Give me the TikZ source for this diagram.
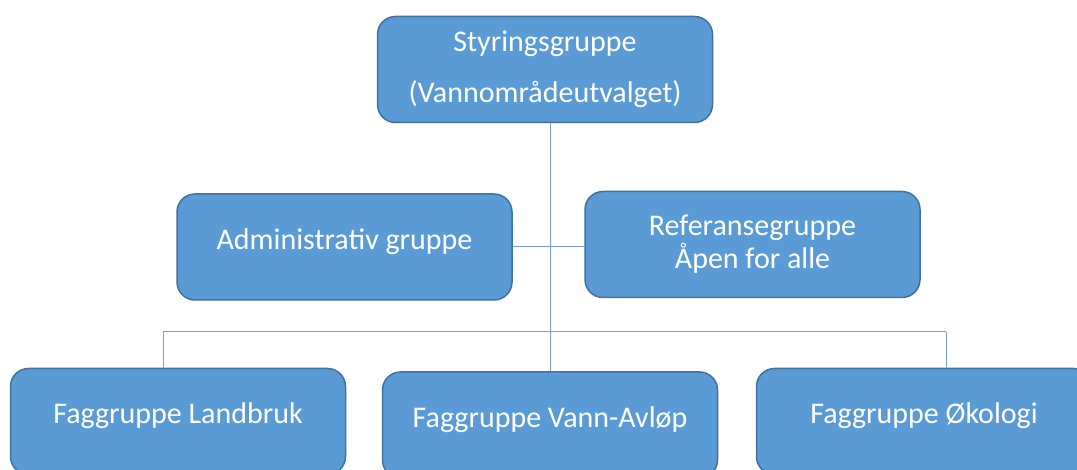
\documentclass[tikz,border=0pt]{standalone}
\usepackage{fontspec}
\setmainfont{Carlito}
\usepackage{tikz}
\usepackage{xcolor}
\definecolor{boxfill}{RGB}{91,155,213}
\definecolor{boxline}{RGB}{65,113,156}
\definecolor{linkline}{RGB}{120,160,215}

\begin{document}
\begin{tikzpicture}[x=1pt,y=-1pt,
  gruppe/.style={rectangle,rounded corners=18pt,draw=boxline,line width=1.5pt,fill=boxfill,
    text=white,align=center,inner sep=0pt,font=\fontsize{30}{33}\selectfont,
    minimum width=335pt,minimum height=106pt},
  enlinje/.style={text depth=16pt},
  link/.style={draw=linkline,line width=1pt}]
\useasboundingbox (0,0) rectangle (1077,470);
\node[gruppe] (styr) at (545,69.5) {Styringsgruppe\\[18pt](Vannområdeutvalget)};
\node[gruppe,enlinje] (admin) at (344.5,247) {Administrativ gruppe};
\node[gruppe] (ref) at (752.5,244.5) {Referansegruppe\\Åpen for alle};
\node[gruppe,enlinje] (land) at (178,421.5) {Faggruppe Landbruk};
\node[gruppe,enlinje] (vann) at (550,425) {Faggruppe Vann-Avløp};
\node[gruppe,enlinje] (oko) at (924,421.5) {Faggruppe Økologi};
\coordinate (busL) at (163,332);
\coordinate (busR) at (946,332); % the bus line under the middle row.
\draw[link] (vann.north) -- (vann.north |- styr.south);
\draw[link] (admin.east) -- (admin.east -| ref.west);
\draw[link] (busL) -- (busR);
\draw[link] (busL) -- (busL |- land.north);
\draw[link] (busR) -- (busR |- oko.north);
\end{tikzpicture}
\end{document}
